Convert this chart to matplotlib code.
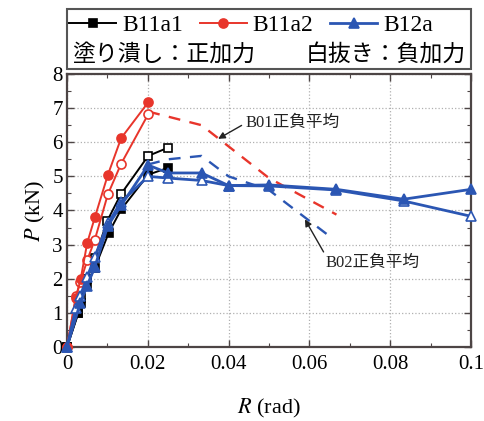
import numpy as np
import matplotlib
matplotlib.use('Agg')
from matplotlib import pyplot as plt
from matplotlib.patches import Rectangle
from matplotlib.ticker import MultipleLocator, FixedLocator, FixedFormatter

plt.rcParams['font.family'] = ['Liberation Serif', 'Noto Sans CJK JP']
plt.rcParams['mathtext.fontset'] = 'stix'

# B11a1 (black), filled = positive loading, open = negative loading
r_b11a1_pos = [0, 0.0028, 0.0035, 0.005, 0.0069, 0.0103, 0.0134, 0.0201, 0.025]
p_b11a1_pos = [0, 1.0, 1.3, 1.85, 2.32, 3.34, 4.03, 5.05, 5.25]
r_b11a1_neg = [0, 0.0028, 0.0035, 0.005, 0.0069, 0.0099, 0.0133, 0.0201, 0.025]
p_b11a1_neg = [0, 1.0, 1.45, 2.0, 2.6, 3.68, 4.47, 5.6, 5.84]

# B11a2 (red)
r_b11a2_pos = [0, 0.0022, 0.0034, 0.005, 0.0069, 0.0101, 0.0134, 0.0201]
p_b11a2_pos = [0, 1.45, 2.0, 3.05, 3.8, 5.04, 6.12, 7.17]
r_b11a2_neg = [0, 0.0022, 0.0033, 0.005, 0.0069, 0.0101, 0.0134, 0.0201]
p_b11a2_neg = [0, 1.48, 1.9, 2.54, 3.15, 4.47, 5.37, 6.82]

# B12a (blue)
r_b12a_pos = [0, 0.0033, 0.005, 0.0069, 0.0101, 0.0134, 0.0201, 0.025,
              0.0333, 0.04, 0.05, 0.0667, 0.0833, 0.1]
p_b12a_pos = [0, 1.3, 1.8, 2.35, 3.55, 4.15, 5.33, 5.1,
              5.1, 4.73, 4.75, 4.62, 4.33, 4.62]
r_b12a_neg = [0, 0.0022, 0.0033, 0.005, 0.0069, 0.0101, 0.0134, 0.0201, 0.025,
              0.0333, 0.04, 0.05, 0.0667, 0.0833, 0.1]
p_b12a_neg = [0, 1.15, 1.5, 2.05, 2.65, 3.62, 4.25, 5.0, 4.95,
              4.88, 4.73, 4.72, 4.6, 4.28, 3.83]

# averaged envelopes of reference specimens (dashed)
r_b01 = [0.0201, 0.0333, 0.05, 0.0667]
p_b01 = [6.9, 6.5, 4.95, 3.88]
r_b02 = [0.0201, 0.025, 0.0333, 0.04, 0.05, 0.0655]
p_b02 = [5.35, 5.5, 5.6, 5.0, 4.6, 3.2]

x_ticks = [0, 0.02, 0.04, 0.06, 0.08, 0.1]
x_ticklabels = ['0', '0.02', '0.04', '0.06', '0.08', '0.1']

BLACK = '#000000'
RED = '#e8352b'
BLUE = '#2b56b3'
FRAME = '#4d4545'

fig = plt.figure(figsize=(4.84, 4.21), dpi=100)
ax = fig.add_axes([67 / 484, 1 - 347 / 421, (471 - 67) / 484, (347 - 74) / 421])

ax.plot(r_b01, p_b01, color=RED, lw=1.7, ls=(0, (5, 4)))
ax.plot(r_b02, p_b02, color=BLUE, lw=1.7, ls=(0, (5, 4)))

def series(x, y, color, marker, ms, filled, lw, label=None):
    ax.plot(x, y, color=color, lw=lw, marker=marker, ms=ms,
            mfc=color if filled else 'white', mec=color, mew=1.2,
            clip_on=False, label=label, zorder=3)

series(r_b11a1_neg, p_b11a1_neg, BLACK, 's', 6, False, 1.4)
series(r_b11a1_pos, p_b11a1_pos, BLACK, 's', 6, True, 1.4, 'B11a1')
series(r_b11a2_neg, p_b11a2_neg, RED, 'o', 6.5, False, 1.4)
series(r_b11a2_pos, p_b11a2_pos, RED, 'o', 6.5, True, 1.4, 'B11a2')
series(r_b12a_neg, p_b12a_neg, BLUE, '^', 7, False, 2.0)
series(r_b12a_pos, p_b12a_pos, BLUE, '^', 7, True, 2.0, 'B12a')

ax.set_xlim(0, 0.1)
ax.set_ylim(0, 8)
ax.xaxis.set_major_locator(FixedLocator(x_ticks))
ax.xaxis.set_major_formatter(FixedFormatter(x_ticklabels))
ax.xaxis.set_minor_locator(MultipleLocator(0.01))
ax.yaxis.set_major_locator(MultipleLocator(1))
ax.yaxis.set_minor_locator(MultipleLocator(0.5))
ax.tick_params(which='both', direction='in', top=True, right=True, color=FRAME)
ax.tick_params(which='major', length=5, width=1.0, labelsize=15, pad=6)
ax.tick_params(which='minor', length=3, width=0.8)
ax.tick_params(axis='y', which='major', pad=3)
ax.grid(True, which='major', ls=':', color='#b0b0b0', lw=0.9)
for s in ax.spines.values():
    s.set_color(FRAME)
    s.set_linewidth(1.6)

ax.set_xlabel(r'$R$ (rad)', fontsize=16, labelpad=16)
ax.set_ylabel(r'$P$ (kN)', fontsize=16, labelpad=4)

ax.annotate('B01正負平均', xy=(0.0374, 6.1), xytext=(0.0442, 6.56),
            fontsize=12, color='#222222', ha='left', va='center',
            arrowprops=dict(arrowstyle='-|>', color='#222222', lw=1.0,
                            mutation_scale=10, shrinkA=1, shrinkB=0,
                            relpos=(0, 0.5)))
ax.annotate('B02正負平均', xy=(0.0589, 3.74), xytext=(0.0639, 2.47),
            fontsize=12, color='#222222', ha='left', va='center',
            arrowprops=dict(arrowstyle='-|>', color='#222222', lw=1.0,
                            mutation_scale=10, shrinkA=0, shrinkB=0,
                            relpos=(0, 1)))

# legend box above the axes: series on the first row, fill convention below
fig.add_artist(Rectangle((67 / 484, 1 - 69 / 421), (471 - 67) / 484, 60 / 421,
                         transform=fig.transFigure, fill=False,
                         edgecolor='#555555', lw=1.5))
fig.legend(loc='center left', bbox_to_anchor=(69 / 484, 1 - 25 / 421),
           ncol=3, frameon=False, fontsize=17, handlelength=2.0,
           handletextpad=0.25, columnspacing=0.7, borderpad=0,
           borderaxespad=0)
fig.text(72 / 484, 1 - 55 / 421, '塗り潰し：正加力', fontsize=16.5,
         ha='left', va='center')
fig.text(466 / 484, 1 - 55 / 421, '白抜き：負加力', fontsize=16.5,
         ha='right', va='center')

fig.savefig('out.png', dpi=100)
